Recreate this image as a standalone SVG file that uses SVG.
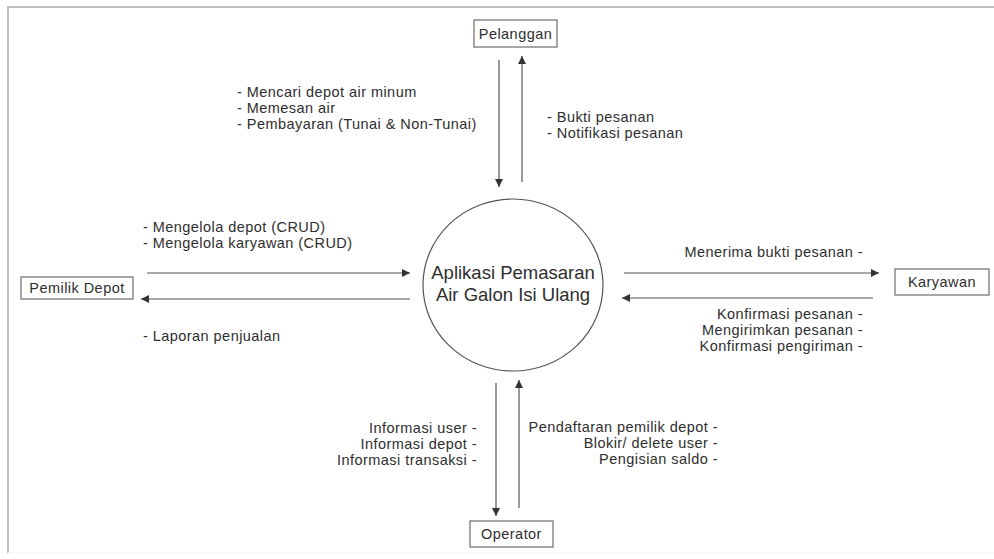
<svg xmlns="http://www.w3.org/2000/svg" width="994" height="559" viewBox="0 0 994 559">
<defs>
<marker id="ah" viewBox="0 0 10 10" refX="10" refY="5" markerWidth="9" markerHeight="8" markerUnits="userSpaceOnUse" orient="auto">
<path d="M0,0 L10,5 L0,10 z" fill="#333"/>
</marker>
<style>
text{font-family:"Liberation Sans",Arial,sans-serif;fill:#2e2e2e;font-size:14.5px;letter-spacing:0.45px}
.box{fill:#fff;stroke:#777;stroke-width:1.3}
.c{text-anchor:middle}
.r{text-anchor:end}
.conn line{stroke:#555;stroke-width:1.2;marker-end:url(#ah)}
.big{font-size:18.5px;letter-spacing:0}
</style>
</defs>
<rect x="0" y="0" width="994" height="559" fill="#fff"/>
<path d="M8,553 L8,7 L994,7" fill="none" stroke="#aaa" stroke-width="1.5"/>
<line x1="8" y1="553" x2="994" y2="553" stroke="#f2f2f2" stroke-width="1"/>

<g id="process">
<ellipse cx="513" cy="285" rx="90" ry="86" fill="#fff" stroke="#555" stroke-width="1.2"/>
<text class="c big" x="513" y="279">Aplikasi Pemasaran</text>
<text class="c big" x="513" y="301">Air Galon Isi Ulang</text>
</g>

<g id="pelanggan">
<rect class="box" x="474" y="20" width="83" height="27"/>
<text class="c" x="515.5" y="39">Pelanggan</text>
</g>

<g id="pemilik-depot">
<rect class="box" x="21" y="277" width="112" height="22"/>
<text class="c" x="77" y="293">Pemilik Depot</text>
</g>

<g id="karyawan">
<rect class="box" x="895" y="269" width="94" height="26"/>
<text class="c" x="942" y="287">Karyawan</text>
</g>

<g id="operator">
<rect class="box" x="470" y="521" width="83" height="26"/>
<text class="c" x="511.5" y="539">Operator</text>
</g>

<g class="conn" id="connectors">
<line x1="499" y1="60" x2="499" y2="187"/>
<line x1="522" y1="182" x2="522" y2="56"/>
<line x1="147" y1="273" x2="410" y2="273"/>
<line x1="410" y1="299" x2="141" y2="299"/>
<line x1="624" y1="273" x2="879" y2="273"/>
<line x1="873" y1="298" x2="622" y2="298"/>
<line x1="496" y1="383" x2="496" y2="516"/>
<line x1="519" y1="508" x2="519" y2="380"/>
</g>

<g id="labels">
<text x="237" y="97">- Mencari depot air minum</text>
<text x="237" y="113">- Memesan air</text>
<text x="237" y="129">- Pembayaran (Tunai &amp; Non-Tunai)</text>
<text x="547" y="122">- Bukti pesanan</text>
<text x="547" y="138">- Notifikasi pesanan</text>
<text x="143" y="232">- Mengelola depot (CRUD)</text>
<text x="143" y="248">- Mengelola karyawan (CRUD)</text>
<text x="143" y="341">- Laporan penjualan</text>
<text class="r" x="863" y="257">Menerima bukti pesanan -</text>
<text class="r" x="863" y="319">Konfirmasi pesanan -</text>
<text class="r" x="863" y="335">Mengirimkan pesanan -</text>
<text class="r" x="863" y="351">Konfirmasi pengiriman -</text>
<text class="r" x="477" y="433">Informasi user -</text>
<text class="r" x="477" y="449">Informasi depot -</text>
<text class="r" x="477" y="465">Informasi transaksi -</text>
<text class="r" x="718" y="432">Pendaftaran pemilik depot -</text>
<text class="r" x="718" y="448">Blokir/ delete user -</text>
<text class="r" x="718" y="464">Pengisian saldo -</text>
</g>
</svg>
